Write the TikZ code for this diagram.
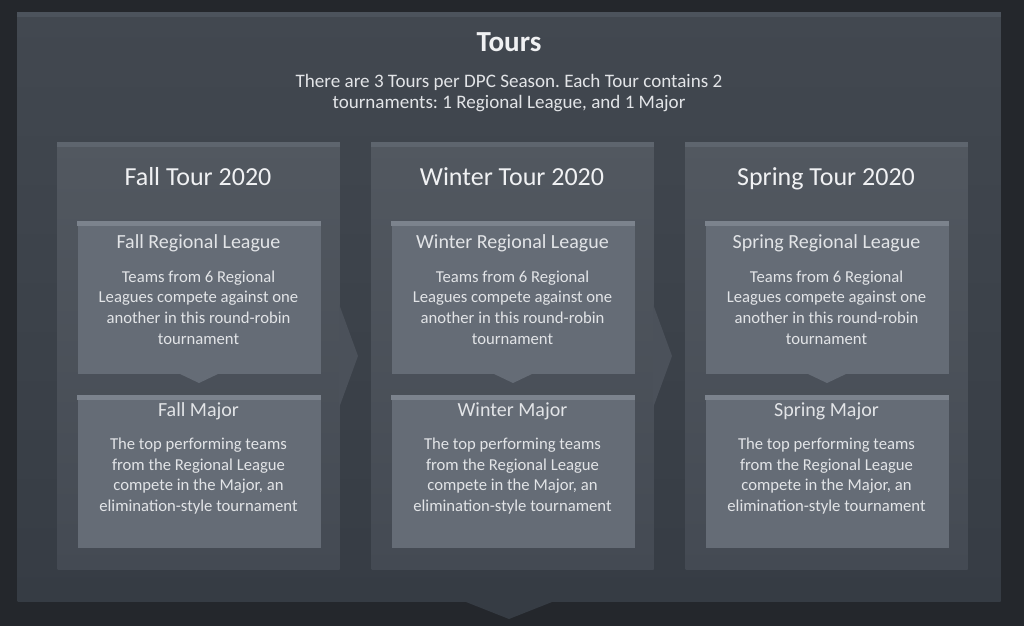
\documentclass[tikz,border=0pt]{standalone}
\usepackage{fontspec}
\setmainfont{Carlito}
\usetikzlibrary{positioning}
\frenchspacing

\definecolor{pagebg}{RGB}{36,39,44}
\definecolor{outertop}{RGB}{66,72,80}
\definecolor{outerbot}{RGB}{54,60,68}
\definecolor{outerstrip}{RGB}{76,83,92}
\definecolor{tourtop}{RGB}{82,88,96}
\definecolor{tourbot}{RGB}{68,74,83}
\definecolor{tourmid}{RGB}{75,81,90}
\definecolor{tourstrip}{RGB}{94,101,110}
\definecolor{leaguebg}{RGB}{101,108,118}
\definecolor{leaguestrip}{RGB}{124,131,141}
\definecolor{txtwhite}{RGB}{240,241,243}
\definecolor{txtgrey}{RGB}{226,228,231}

\tikzset{every picture/.style={line width=0.75pt}}
\tikzset{
	outerbox/.style={rectangle,inner sep=0pt,anchor=north west,top color=outertop,bottom color=outerbot,minimum width=737.25pt,minimum height=441.75pt},
	tourbox/.style={rectangle,inner sep=0pt,anchor=north west,top color=tourtop,bottom color=tourbot,minimum width=211.5pt,minimum height=320.25pt},
	stagebox/.style={rectangle,inner sep=0pt,anchor=north west,fill=leaguebg,minimum width=182.25pt,minimum height=114pt},
	headtext/.style={anchor=base,inner sep=0.75pt,text=txtwhite,font=\bfseries\fontsize{21.8}{24}\selectfont},
	subtext/.style={anchor=base,inner sep=0.75pt,text=txtgrey,align=center,font=\fontsize{14.3}{15.4}\selectfont},
	tourtitle/.style={anchor=base,inner sep=0.75pt,text=txtwhite,font=\fontsize{19.5}{22}\selectfont},
	stagetitle/.style={anchor=base,inner sep=0.75pt,text=txtgrey,font=\fontsize{15}{18}\selectfont},
	stagetext/.style={inner sep=0.75pt,text=txtgrey,align=center,font=\fontsize{12.5}{15.5}\selectfont}
}

\begin{document}
\begin{tikzpicture}[x=0.75pt,y=0.75pt,yscale=-1,xscale=1]
	%Background
	\fill[pagebg] (0,0) rectangle (1024,626);
	\useasboundingbox (0,0) rectangle (1024,626);
	%Outer box
	\node[outerbox] (outer) at (17,12) {};
	\fill[outerstrip] (outer.north west) rectangle (outer.east |- 0,17);
	\fill[outerbot] (outer.south) ++(-45.5,-1) -- ++(45.5,18) -- ++(45.5,-18) -- cycle;
	% Text Node
	\node[headtext] (tours) at (509,51.5) {Tours};
	% Text Node
	\node[subtext] (intro) at (509,108) {There are 3 Tours per DPC Season. Each Tour contains 2\\tournaments: 1 Regional League, and 1 Major};
	
	\foreach \name/\season/\dx in {fall/Fall/0,winter/Winter/314,spring/Spring/628}{
		%Tour box
		\node[tourbox] (\name) at (57+\dx,142) {};
		\fill[tourstrip] (\name.north west) rectangle (\name.east |- 0,147);
		% Text Node
		\node[tourtitle] (\name-title) at (198+\dx,185) {\season{} Tour 2020};
		%Regional League
		\node[stagebox] (\name-league) at (77+\dx,221) {};
		\fill[leaguestrip] (\name-league.north west) rectangle (\name-league.east |- 0,226);
		\fill[leaguebg] (\name-league.south) ++(-21,-1) -- ++(21,10) -- ++(21,-10) -- cycle;
		\node[stagetitle] (\name-league-title) at (198.5+\dx,248) {\season{} Regional League};
		\node[stagetext] (\name-league-text) at (198.5+\dx,307.5) {Teams from 6 Regional\\Leagues compete against one\\another in this round-robin\\tournament};
		%Major
		\node[stagebox] (\name-major) at (77+\dx,395) {};
		\fill[leaguestrip] (\name-major.north west) rectangle (\name-major.east |- 0,400);
		\node[stagetitle] (\name-major-title) at (198.5+\dx,416) {\season{} Major};
		\node[stagetext] (\name-major-text) at (198.5+\dx,476) {The top performing teams\\from the Regional League\\compete in the Major, an\\elimination-style tournament};
	}
	%Chevrons between tours
	\fill[tourmid] (fall.east) ++(-1,-52) -- ++(19,52) -- ++(-19,52) -- cycle;
	\fill[tourmid] (winter.east) ++(-1,-52) -- ++(19,52) -- ++(-19,52) -- cycle;
\end{tikzpicture}
\end{document}
